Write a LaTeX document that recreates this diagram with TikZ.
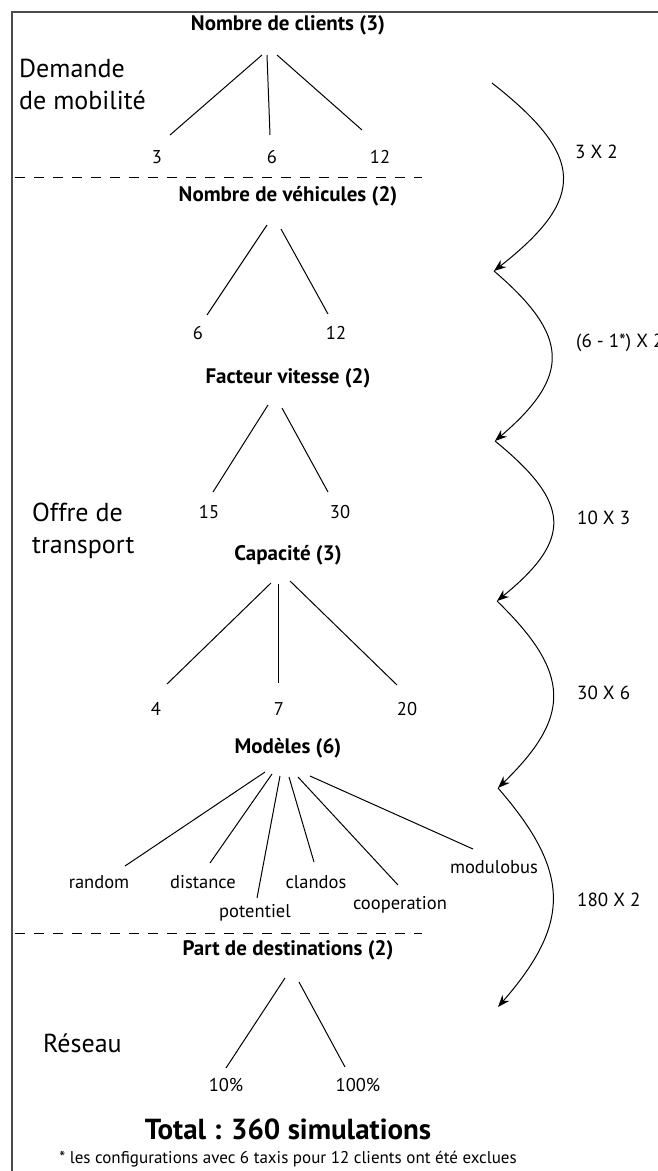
\documentclass[tikz,border=0pt]{standalone}
\usepackage{fontspec}
\setmainfont{PT Sans}
\usetikzlibrary{arrows.meta,calc}

\begin{document}
\begin{tikzpicture}[x=1pt, y=-1pt, >={Stealth[length=12pt,width=9pt]},
  every node/.style={inner sep=0pt, align=center},
  title/.style={font=\fontsize{21}{24}\selectfont\bfseries},
  leaf/.style={font=\fontsize{18.5}{21}\selectfont},
  side/.style={font=\fontsize{26}{32}\selectfont, align=left, anchor=west},
  factor/.style={font=\fontsize{19}{23}\selectfont, anchor=west},
  branch/.style={line width=1pt},
  flow/.style={->, line width=1pt},
  sep/.style={line width=1pt, dash pattern=on 10pt off 9pt}]
  \useasboundingbox (0,0) rectangle (658,1171);
  \draw[line width=1.3pt, black!70] (12,1171) -- (12,12) -- (658,12);

  % Demande de mobilite
  \node[side] (demande) at (19,84) {Demande\\de mobilité};
  \node[title] (clients) at (288,25) {Nombre de clients (3)};
  \node[leaf] (c3) at (157,157) {3};
  \node[leaf] (c6) at (272,157) {6};
  \node[leaf] (c12) at (380,157) {12};
  \draw[branch] ($(clients)+(-26,30)$) -- ($(c3)+(13,-22)$);
  \draw[branch] ($(clients)+(-21,30)$) -- ($(c6)+(-2,-22)$);
  \draw[branch] ($(clients)+(-11,30)$) -- ($(c12)+(-18,-27)$);

  \draw[sep] (15,177) -- (422,177);

  % Offre de transport
  \node[side] (offre) at (32,531) {Offre de\\transport};
  \node[title] (vehicules) at (288,196) {Nombre de véhicules (2)};
  \node[leaf] (v6) at (198,333) {6};
  \node[leaf] (v12) at (336,333) {12};
  \draw[branch] ($(vehicules)+(-21,29)$) -- ($(v6)+(9,-18)$);
  \draw[branch] ($(vehicules)+(-7,33)$) -- ($(v12)+(-8,-19)$);

  \node[title] (vitesse) at (288,378) {Facteur vitesse (2)};
  \node[leaf] (f15) at (209,512) {15};
  \node[leaf] (f30) at (340,512) {30};
  \draw[branch] ($(vitesse)+(-20,27)$) -- ($(f15)+(4,-20)$);
  \draw[branch] ($(vitesse)+(-6,30)$) -- ($(f30)+(-12,-20)$);

  \node[title] (capacite) at (288,555) {Capacité (3)};
  \node[leaf] (k4) at (156,709) {4};
  \node[leaf] (k7) at (279,709) {7};
  \node[leaf] (k20) at (407,709) {20};
  \draw[branch] ($(capacite)+(-17,28)$) -- ($(k4)+(11,-25)$);
  \draw[branch] ($(capacite)+(-10,29)$) -- ($(k7)+(-1,-26)$);
  \draw[branch] ($(capacite)+(2,26)$) -- ($(k20)+(-10,-24)$);

  \node[title] (modeles) at (288,748) {Modèles (6)};
  \node[leaf] (random) at (99,882) {random};
  \node[leaf] (distance) at (203,882) {distance};
  \node[leaf] (potentiel) at (255,913) {potentiel};
  \node[leaf] (clandos) at (316,882) {clandos};
  \node[leaf] (cooperation) at (400,905) {cooperation};
  \node[leaf] (modulobus) at (494,867) {modulobus};
  \draw[branch] ($(modeles)+(-23,24)$) -- ($(random)+(26,-16)$);
  \draw[branch] ($(modeles)+(-16,26)$) -- ($(distance)+(7,-19)$);
  \draw[branch] ($(modeles)+(-8,28)$) -- ($(potentiel)+(2,-15)$);
  \draw[branch] ($(modeles)+(1,29)$) -- ($(clandos)+(-2,-20)$);
  \draw[branch] ($(modeles)+(10,29)$) -- ($(cooperation)+(-2,-20)$);
  \draw[branch] ($(modeles)+(22,28)$) -- ($(modulobus)+(-21,-18)$);

  \draw[sep] (15,933) -- (422,933);

  % Reseau
  \node[side] (reseau) at (43,1043) {Réseau};
  \node[title] (destinations) at (288,950) {Part de destinations (2)};
  \node[leaf] (d10) at (226,1085) {10\%};
  \node[leaf] (d100) at (358,1085) {100\%};
  \draw[branch] ($(destinations)+(-3,28)$) -- ($(d10)+(0,-17)$);
  \draw[branch] ($(destinations)+(11,32)$) -- ($(d100)+(-13,-18)$);

  % combinaisons
  \coordinate (a0) at (492,83);
  \coordinate (a1) at (494,271);
  \coordinate (a2) at (495,441);
  \coordinate (a3) at (497,601);
  \coordinate (a4) at (498,788);
  \coordinate (a5) at (498,1007);
  \draw[flow] (a0) .. controls +(93,73) and +(93,-73) .. (a1);
  \draw[flow] (a1) .. controls +(76,65) and +(76,-65) .. (a2);
  \draw[flow] (a2) .. controls +(76,62) and +(76,-62) .. (a3);
  \draw[flow] (a3) .. controls +(74,72) and +(74,-72) .. (a4);
  \draw[flow] (a4) .. controls +(73,84) and +(73,-84) .. (a5);
  \node[factor] (x1) at (575,152) {3 X 2};
  \node[factor] (x2) at (576,343) {(6 - 1*) X 2};
  \node[factor] (x3) at (577,518) {10 X 3};
  \node[factor] (x4) at (577,693) {30 X 6};
  \node[factor] (x5) at (577,900) {180 X 2};

  \node[font=\fontsize{29}{32}\selectfont\bfseries] (total) at (288,1129) {Total : 360 simulations};
  \node[font=\fontsize{17}{20}\selectfont] (note) at (288,1159) {* les configurations avec 6 taxis pour 12 clients ont été exclues};
\end{tikzpicture}
\end{document}
